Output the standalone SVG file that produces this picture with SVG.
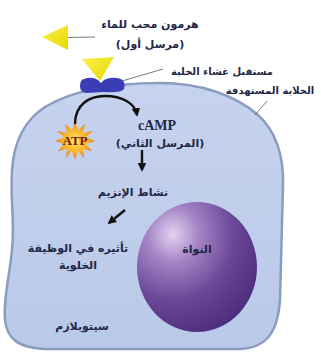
<svg xmlns="http://www.w3.org/2000/svg" width="321" height="354" viewBox="0 0 321 354">
  <defs>
    <style>
      .ar { font-family: "DejaVu Sans", sans-serif; font-weight: bold; fill: #1f2747; text-anchor: middle; }
      .lead { stroke: #555c66; stroke-width: 0.8; fill: none; }
      .flow { stroke: #111; stroke-width: 2.4; fill: none; }
    </style>
    <marker id="head" viewBox="0 0 10 10" refX="8" refY="5" markerWidth="3.6" markerHeight="3.6" orient="auto">
      <path d="M0,0 L10,5 L0,10 Z" fill="#111"/>
    </marker>
    <linearGradient id="cellFill" x1="0" y1="0" x2="0" y2="1">
      <stop offset="0" stop-color="#c6d3ef"/>
      <stop offset="1" stop-color="#b9c9e8"/>
    </linearGradient>
    <radialGradient id="nucFill" cx="0.3" cy="0.25" r="0.85">
      <stop offset="0" stop-color="#e3d3f0"/>
      <stop offset="0.25" stop-color="#a585c6"/>
      <stop offset="0.6" stop-color="#6a4797"/>
      <stop offset="1" stop-color="#4a2a78"/>
    </radialGradient>
    <linearGradient id="yellow" x1="0" y1="0" x2="1" y2="1">
      <stop offset="0" stop-color="#faf04a"/>
      <stop offset="1" stop-color="#e8d800"/>
    </linearGradient>
    <radialGradient id="burst" cx="0.5" cy="0.5" r="0.5">
      <stop offset="0" stop-color="#ffe45a"/>
      <stop offset="0.6" stop-color="#f7b32a"/>
      <stop offset="1" stop-color="#ec7a18"/>
    </radialGradient>
  </defs>

  <rect width="321" height="354" fill="#ffffff"/>

  <!-- target cell -->
  <g id="cell">
    <path d="M160,83 C110,83 70,92 45,107 C25,120 14,140 12,170 C10,200 15,220 12,250 C9,280 3,300 5,320 C7,340 20,348 45,349 L240,349 C268,348 278,330 280,300 L283,185 C284,155 275,130 258,115 C235,95 200,83 160,83 Z" fill="url(#cellFill)" stroke="#8a9dc0" stroke-width="2.5"/>
  </g>

  <!-- nucleus -->
  <g id="nucleus">
    <ellipse cx="197" cy="267" rx="60" ry="65" fill="url(#nucFill)"/>
    <text class="ar" x="197" y="253" font-size="11">النواة</text>
  </g>

  <!-- membrane receptor -->
  <g id="receptor">
    <path d="M84,79 Q92,76 98,80 L101,83 L104,80 Q112,76 121,79 Q126,82 124,89 Q121,93 104,92 L86,93 Q80,92 80,86 Q80,80 84,79 Z" fill="#3a3eb6"/>
  </g>

  <!-- hormone bound to receptor -->
  <g id="hormone-bound">
    <polygon points="82,59 114,57 100,81" fill="url(#yellow)"/>
  </g>

  <!-- free hormone -->
  <g id="hormone">
    <polygon points="42,37 68,25 68,50" fill="url(#yellow)"/>
  </g>

  <!-- ATP -->
  <g id="atp">
    <polygon points="75,121 78,130 85,124 83,133 93,131 86,137 95,141 86,144 92,151 83,149 84,158 78,151 75,160 72,151 66,158 67,149 58,151 64,144 55,141 64,137 57,131 67,133 65,124 72,130" fill="url(#burst)"/>
    <text x="75" y="145" font-family="Liberation Serif, serif" font-weight="bold" font-size="13" fill="#6e1a12" text-anchor="middle">ATP</text>
  </g>

  <!-- labels -->
  <g id="labels">
    <text class="ar" x="150" y="28" font-size="11">هرمون محب للماء</text>
    <text class="ar" x="150" y="48" font-size="11">(مرسل أول)</text>
    <text class="ar" x="222" y="75" font-size="10">مستقبل غشاء الخلية</text>
    <text class="ar" x="270" y="94" font-size="10">الخلاية المستهدفة</text>
    <text x="157" y="130" font-family="Liberation Serif, serif" font-weight="bold" font-size="14" fill="#1f2747" text-anchor="middle">cAMP</text>
    <text class="ar" x="160" y="147" font-size="11">(المرسل الثاني)</text>
    <text class="ar" x="133" y="196" font-size="11">نشاط الإنزيم</text>
    <text class="ar" x="78" y="252" font-size="11">تأثيره في الوظيفة</text>
    <text class="ar" x="78" y="269" font-size="11">الخلوية</text>
    <text class="ar" x="82" y="330" font-size="11">سيتوبلازم</text>
  </g>

  <!-- connectors -->
  <g id="connectors">
    <line class="lead" x1="68" y1="37.5" x2="95" y2="37"/>
    <line class="lead" x1="122" y1="81" x2="163" y2="69"/>
    <line class="lead" x1="267" y1="101" x2="255" y2="115"/>
    <path class="flow" d="M75,124 C75,104 90,96 105,96 C122,96 135,103 137,115" marker-end="url(#head)"/>
    <line class="flow" x1="142" y1="150" x2="142" y2="170" marker-end="url(#head)"/>
    <line class="flow" x1="125" y1="210" x2="109" y2="223" marker-end="url(#head)"/>
  </g>
</svg>
